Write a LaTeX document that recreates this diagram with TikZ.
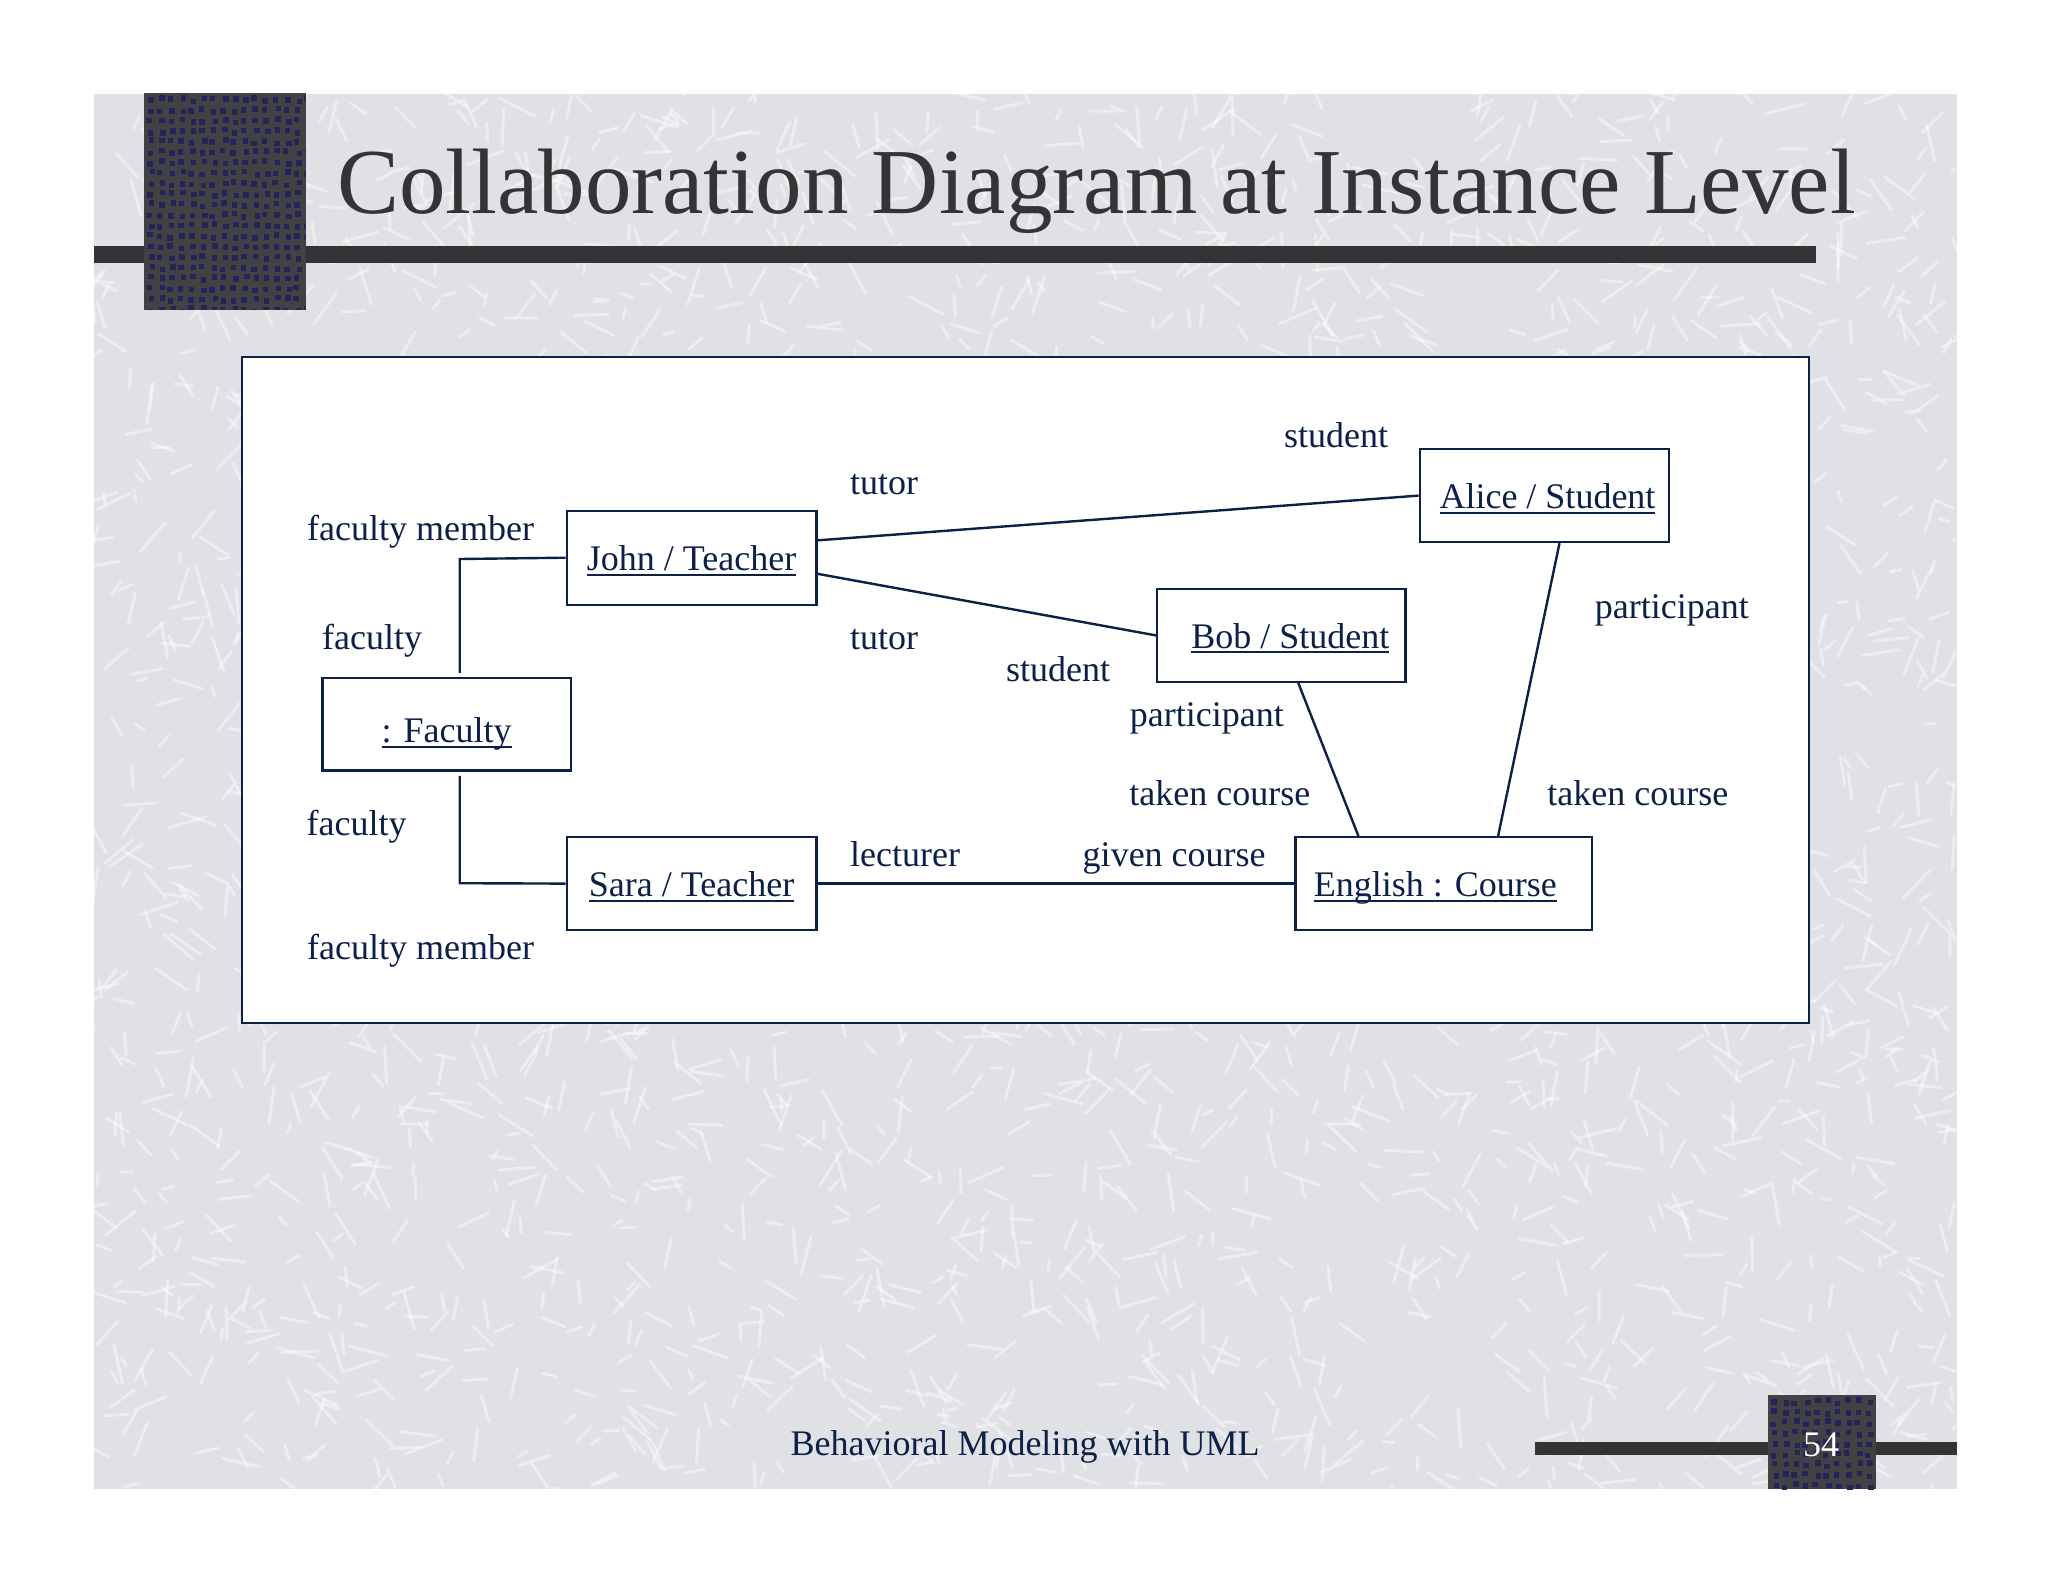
\documentclass[tikz,border=0pt]{standalone}
\usepackage{fontspec}
\setmainfont{Liberation Serif}
\usetikzlibrary{calc}
\definecolor{navy}{RGB}{12,32,72}
\definecolor{slidebg}{RGB}{224,225,228}
\definecolor{bardark}{RGB}{52,52,54}
\definecolor{sqdark}{RGB}{66,66,68}
\definecolor{sqdot}{RGB}{36,36,88}
\newsavebox\ulbox
\newcommand\myul[1]{\sbox\ulbox{#1}\leavevmode\rlap{\raisebox{-5pt}{\rule{\wd\ulbox}{2pt}}}\usebox\ulbox}
\tikzset{
  obj/.style={draw=navy, line width=2.4pt, fill=white, inner sep=0pt,
    text height=34pt, text depth=8pt,
    font=\fontsize{36}{40}\selectfont, text=navy},
  lbl/.style={anchor=base, inner sep=0pt, font=\fontsize{36}{40}\selectfont, text=navy},
  link/.style={draw=navy, line width=2.4pt},
  stroke/.style={white, line width=3pt, opacity=0.4, line cap=round},
}
\begin{document}
\begin{tikzpicture}[x=1pt,y=-1pt]
\useasboundingbox (0,0) rectangle (2048,1582);
\fill[white] (0,0) rectangle (2048,1582);
% slide background with light texture
\fill[slidebg] (94,94) rectangle (1956.5,1489);
\begin{scope}
\clip (94,94) rectangle (1956.5,1489);
\pgfmathsetseed{4242}
\foreach \i in {1,...,2600}{
  \pgfmathsetmacro{\px}{94+rnd*1862}
  \pgfmathsetmacro{\py}{94+rnd*1395}
  \pgfmathsetmacro{\ang}{rnd*360}
  \pgfmathsetmacro{\len}{10+rnd*30}
  \draw[stroke] (\px,\py) -- ++(\ang:\len);
}
\end{scope}
% title bar and square
\fill[bardark] (94,245.5) rectangle (1815.5,262.5);
\fill[sqdark] (143.7,92.7) rectangle (305.6,309.5);
\begin{scope}
\clip (143.7,92.7) rectangle (305.6,309.5);
\pgfmathsetseed{77}
\foreach \gx in {0,...,15}{
  \foreach \gy in {0,...,20}{
    \pgfmathsetmacro{\qx}{146+\gx*10.5+rnd*4}
    \pgfmathsetmacro{\qy}{95+\gy*10.5+rnd*4}
    \fill[sqdot] (\qx,\qy) rectangle ++(5.5,5.5);
  }
}
\end{scope}
\node[anchor=base west, inner sep=0pt, text=bardark, font=\fontsize{93}{100}\selectfont] (title) at (337,213) {Collaboration Diagram at Instance Level};
% footer
\fill[bardark] (1534.6,1442) rectangle (1956.5,1455);
\fill[sqdark] (1768.4,1395) rectangle (1875.5,1489);
\begin{scope}
\clip (1768.4,1395) rectangle (1875.5,1489);
\pgfmathsetseed{91}
\foreach \gx in {0,...,10}{
  \foreach \gy in {0,...,9}{
    \pgfmathsetmacro{\qx}{1770+\gx*10.5+rnd*4}
    \pgfmathsetmacro{\qy}{1397+\gy*10.5+rnd*4}
    \fill[sqdot] (\qx,\qy) rectangle ++(5.5,5.5);
  }
}
\end{scope}
\node[lbl] (footer) at (1025,1455) {Behavioral Modeling with UML};
\node[lbl, text=white] (pagenum) at (1821,1456) {54};
% diagram frame
\node[draw=navy, line width=2pt, fill=white, minimum width=1567.3pt, minimum height=666.1pt, inner sep=0pt] (frame) at (1025.25,689.65) {};
% objects
\node[obj, minimum width=249.4pt, minimum height=94pt] (john) at (691.6,557.7) {\myul{John / Teacher}};
\node[obj, minimum width=249.5pt, minimum height=92.7pt] (alice) at (1544.5,495.6) {\hspace*{6pt}\myul{Alice / Student}};
\node[obj, minimum width=248.2pt, minimum height=92.8pt] (bob) at (1281.3,635.4) {\hspace*{18pt}\myul{Bob / Student}};
\node[obj, minimum width=248.2pt, minimum height=92.7pt, text height=45pt] (faculty) at (446.7,724.3) {\myul{: Faculty}};
\node[obj, minimum width=249.4pt, minimum height=92.8pt] (sara) at (691.6,883.6) {\myul{Sara / Teacher}};
\node[obj, minimum width=296.6pt, minimum height=92.8pt] (english) at (1443.9,883.6) {\myul{English : Course}\hspace*{17pt}};
% connectors
\draw[link] ($(john.north east)!0.32!(john.south east)$) -- ($(alice.north west)!0.5!(alice.south west)$);
\draw[link] ($(john.north east)!0.667!(john.south east)$) -- (bob.west);
\coordinate (fj) at (459.7,559);
\coordinate (fs) at (459.7,883.2);
\draw[link] (john.west) -- (fj) -- ([yshift=4pt]fj |- faculty.north);
\draw[link] ([yshift=-4pt]fs |- faculty.south) -- (fs) -- (sara.west);
\draw[link] (sara.east) -- (english.west);
\draw[link] ([xshift=17pt]bob.south) -- ([xshift=-85.5pt]english.north);
\draw[link] ([xshift=15pt]alice.south) -- ([xshift=54.2pt]english.north);
% role labels
\node[lbl] (l1) at (1336,447) {student};
\node[lbl] (l2) at (884.2,494) {tutor};
\node[lbl] (l3) at (420.6,540) {faculty member};
\node[lbl] (l4) at (372.2,649) {faculty};
\node[lbl] (l5) at (884.2,649) {tutor};
\node[lbl] (l6) at (1058,681) {student};
\node[lbl] (l7) at (1671.8,618) {participant};
\node[lbl] (l8) at (1206.8,726) {participant};
\node[lbl] (l9) at (1219.9,805) {taken course};
\node[lbl] (l10) at (1637.9,805) {taken course};
\node[lbl] (l11) at (356.6,835) {faculty};
\node[lbl] (l12) at (905.1,866) {lecturer};
\node[lbl] (l13) at (1174.2,866) {given course};
\node[lbl] (l14) at (420.6,959) {faculty member};
\end{tikzpicture}
\end{document}
